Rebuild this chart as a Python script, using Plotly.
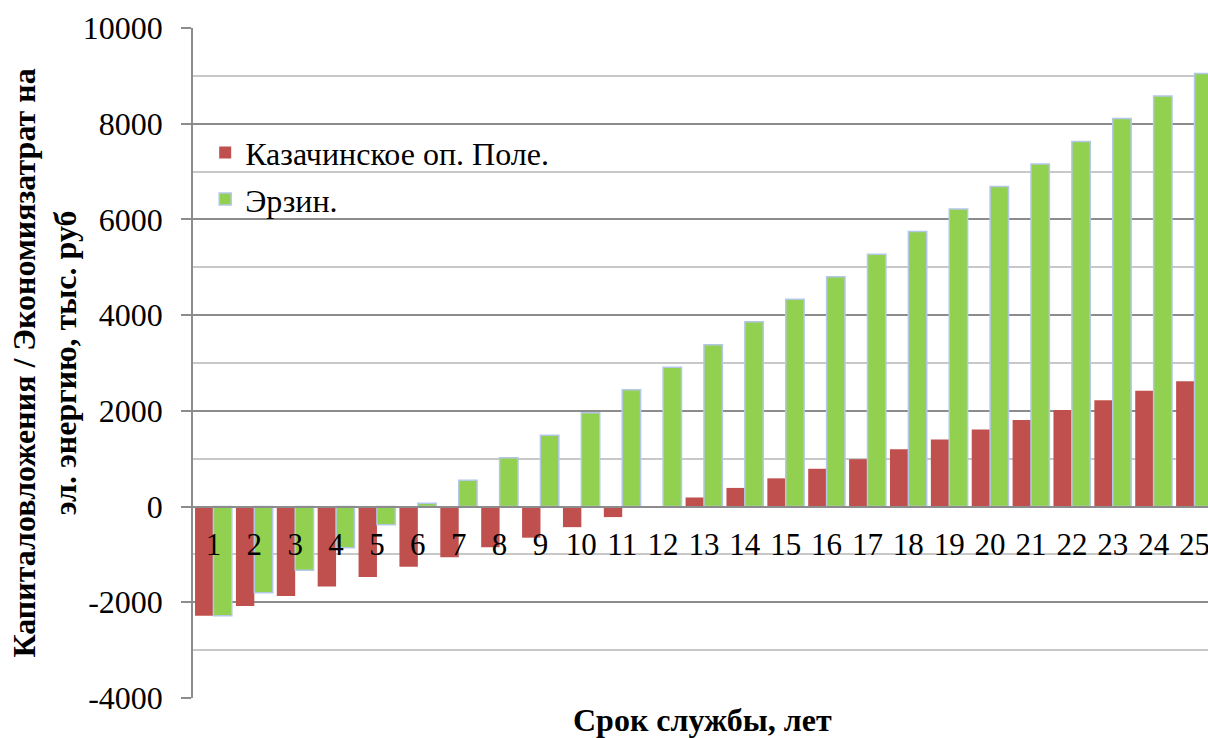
import plotly.graph_objects as go

categories = [str(i) for i in range(1, 26)]
kazach = [-2280, -2080, -1870, -1670, -1470, -1260, -1060, -850, -650, -430,
          -220, -20, 190, 390, 590, 790, 990, 1200, 1400, 1610, 1810, 2020, 2220, 2420, 2620]
erzin = [-2280, -1800, -1330, -860, -380, 70, 550, 1020, 1490, 1960,
         2440, 2910, 3380, 3860, 4330, 4800, 5270, 5750, 6220, 6690,
         7160, 7630, 8110, 8580, 9050]
ytick_vals = [-4000, -2000, 0, 2000, 4000, 6000, 8000, 10000]
ytick_text = ["-4000", "-2000", "0", "2000", "4000", "6000", "8000", "10000"]
series_names = ["Казачинское оп. Поле.", "Эрзин."]
y_title = "Капиталовложения / Экономиязатрат на<br>эл. энергию, тыс. руб"
x_title = "Срок службы, лет"

FONT = "Liberation Serif"
xnum = list(range(1, 26))

W, H = 1208, 738
L, T, R, B = 193, 28, 0, 40
PW, PH = W - L - R, H - T - B

fig = go.Figure()
fig.add_trace(go.Bar(x=xnum, y=kazach, name=series_names[0], legendgroup="a",
                     marker=dict(color="#C0504D", line=dict(color="#C0504D", width=0))))
fig.add_trace(go.Bar(x=xnum, y=erzin, name=series_names[1], legendgroup="b",
                     marker=dict(color="#92D050", line=dict(color="#B4C7E7", width=1.5))))

fig.update_layout(
    width=W, height=H,
    margin=dict(l=L, r=R, t=T, b=B, autoexpand=False),
    paper_bgcolor="white", plot_bgcolor="white",
    barmode="group", bargap=0.1, bargroupgap=0.0,
    font=dict(family=FONT, color="black"),
    showlegend=True,
    legend=dict(x=0.012, y=0.855, xanchor="left", yanchor="top",
                font=dict(family=FONT, size=32, color="black"),
                bgcolor="rgba(0,0,0,0)", tracegroupgap=2, traceorder="grouped"),
    xaxis=dict(range=[0.5, 25.33], tickmode="array", tickvals=xnum, ticktext=categories,
               anchor="free", position=4000/14000, showline=True, linecolor="#8C8C8C",
               linewidth=1.5, ticks="", showgrid=False, zeroline=False, automargin=False,
               ticklabeloverflow="allow",
               tickfont=dict(family=FONT, size=31, color="black"), ticklabelstandoff=10),
    yaxis=dict(range=[-4000, 10000], tickmode="array", tickvals=ytick_vals, ticktext=ytick_text,
               showline=True, linecolor="#8C8C8C", automargin=False,
               linewidth=1.5, ticks="outside", ticklen=10, tickcolor="#8C8C8C", tickwidth=1.5,
               showgrid=True, gridcolor="#8C8C8C", gridwidth=1.5, zeroline=False,
               tickfont=dict(family=FONT, size=32, color="black"), ticklabelstandoff=12,
               minor=dict(dtick=1000, tick0=0, showgrid=True, gridcolor="#C8C8C8", gridwidth=1.5, ticks="")),
    annotations=[
        dict(text=x_title, xref="paper", yref="paper", x=(702 - L) / PW, y=-(720 - (T + PH)) / PH,
             xanchor="center", yanchor="middle", showarrow=False,
             font=dict(family=FONT, size=32, color="black", weight="bold")),
        dict(text=y_title, xref="paper", yref="paper", x=(44 - L) / PW, y=1 - (363.5 - T) / PH,
             xanchor="center", yanchor="middle", showarrow=False, textangle=-90,
             font=dict(family=FONT, size=32, color="black", weight="bold")),
    ],
)

fig.write_html("out.html", config={"displayModeBar": False},
               post_script="document.body.style.margin='0';document.body.style.overflow='hidden';")
